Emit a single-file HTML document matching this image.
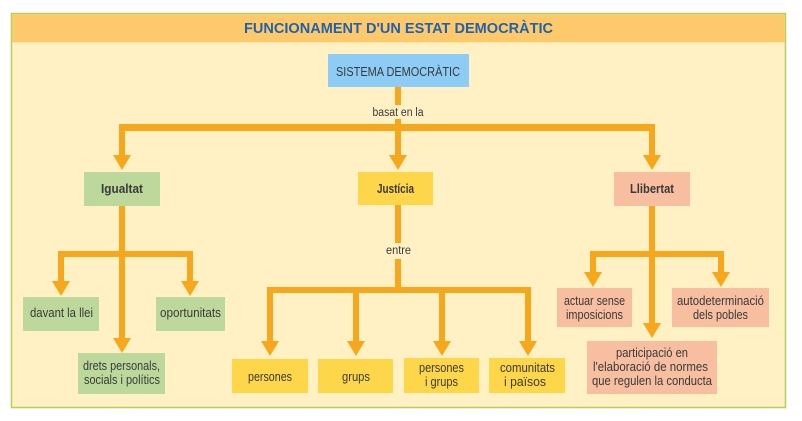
<!DOCTYPE html>
<html><head><meta charset="utf-8"><style>
html,body{margin:0;padding:0;background:#fff;}
svg{display:block;}
text{font-family:"Liberation Sans",sans-serif;fill:#3a3a3a;}
</style></head><body>
<svg width="802" height="421" viewBox="0 0 802 421" xmlns="http://www.w3.org/2000/svg">
<rect x="0" y="0" width="802" height="421" fill="#ffffff"/>
<!-- frame -->
<rect x="11.5" y="13.5" width="774" height="394" fill="#fff1c4" stroke="#b6d25a" stroke-width="1.6"/>
<rect x="12.3" y="14.3" width="772.4" height="28" fill="#fec96a"/>
<text x="398.5" y="33" text-anchor="middle" font-size="14.5" font-weight="bold" style="fill:#1f62ae" textLength="309" lengthAdjust="spacingAndGlyphs">FUNCIONAMENT D'UN ESTAT DEMOCRÀTIC</text>

<!-- top box -->
<rect x="328" y="54" width="141" height="33" fill="#8dccf5"/>
<text x="398" y="76" text-anchor="middle" font-size="13" textLength="124" lengthAdjust="spacingAndGlyphs">SISTEMA DEMOCRÀTIC</text>

<g fill="#f7a71c">
<!-- trunk from top -->
<rect x="395" y="87" width="6" height="18"/>
<rect x="395" y="119" width="6" height="12"/>
<!-- main bar -->
<rect x="119" y="124" width="536" height="7"/>
<!-- drops to level 1 -->
<rect x="119" y="124" width="6" height="32"/>
<polygon points="113,155 131,155 122,170"/>
<rect x="395" y="124" width="6" height="32"/>
<polygon points="389,155 407,155 398,170"/>
<rect x="649" y="124" width="6" height="32"/>
<polygon points="643,155 661,155 652,170"/>

<!-- Igualtat subtree -->
<rect x="119" y="206" width="6" height="133"/>
<polygon points="113,338 131,338 122,353"/>
<rect x="58" y="251" width="135" height="6"/>
<rect x="58" y="251" width="6" height="31"/>
<polygon points="52,281 70,281 61,296"/>
<rect x="187" y="251" width="6" height="31"/>
<polygon points="181,281 199,281 190,296"/>

<!-- Justicia subtree -->
<rect x="395" y="205" width="6" height="38"/>
<rect x="395" y="259" width="6" height="34"/>
<rect x="267" y="287" width="264" height="6"/>
<rect x="267" y="287" width="6" height="55"/>
<polygon points="261,341 279,341 270,356"/>
<rect x="353" y="287" width="6" height="55"/>
<polygon points="347,341 365,341 356,356"/>
<rect x="439" y="287" width="6" height="55"/>
<polygon points="433,341 451,341 442,356"/>
<rect x="525" y="287" width="6" height="55"/>
<polygon points="519,341 537,341 528,356"/>

<!-- Llibertat subtree -->
<rect x="649" y="206" width="6" height="118"/>
<polygon points="643,323 661,323 652,338"/>
<rect x="590" y="251" width="134" height="6"/>
<rect x="590" y="251" width="6" height="22"/>
<polygon points="584,272 602,272 593,287"/>
<rect x="718" y="251" width="6" height="22"/>
<polygon points="712,272 730,272 721,287"/>
</g>

<text x="398" y="116" text-anchor="middle" font-size="11.5" textLength="51" lengthAdjust="spacingAndGlyphs">basat en la</text>
<text x="398.5" y="254" text-anchor="middle" font-size="11.5" textLength="25" lengthAdjust="spacingAndGlyphs">entre</text>

<!-- level 1 boxes -->
<rect x="84" y="172" width="76" height="34" fill="#bcd99b"/>
<text x="122" y="193" text-anchor="middle" font-size="13" font-weight="bold" textLength="42" lengthAdjust="spacingAndGlyphs">Igualtat</text>
<rect x="358" y="172" width="75" height="33" fill="#fdd64a"/>
<text x="395.5" y="193" text-anchor="middle" font-size="13" font-weight="bold" textLength="37" lengthAdjust="spacingAndGlyphs">Justícia</text>
<rect x="614" y="172" width="76" height="34" fill="#f7bea0"/>
<text x="652" y="193" text-anchor="middle" font-size="13" font-weight="bold" textLength="44" lengthAdjust="spacingAndGlyphs">Llibertat</text>

<!-- Igualtat children -->
<rect x="23" y="297" width="76" height="34" fill="#bcd99b"/>
<text x="61.5" y="317" text-anchor="middle" font-size="12.5" textLength="63" lengthAdjust="spacingAndGlyphs">davant la llei</text>
<rect x="156" y="297" width="69" height="34" fill="#bcd99b"/>
<text x="190.5" y="317" text-anchor="middle" font-size="12.5" textLength="61" lengthAdjust="spacingAndGlyphs">oportunitats</text>
<rect x="78" y="353" width="87" height="41" fill="#bcd99b"/>
<text x="121.5" y="370" text-anchor="middle" font-size="12.5" textLength="77" lengthAdjust="spacingAndGlyphs">drets personals,</text>
<text x="122" y="384" text-anchor="middle" font-size="12.5" textLength="76" lengthAdjust="spacingAndGlyphs">socials i polítics</text>

<!-- Justicia children -->
<rect x="232" y="359" width="76" height="34" fill="#fdd64a"/>
<text x="270" y="381" text-anchor="middle" font-size="12.5" textLength="44" lengthAdjust="spacingAndGlyphs">persones</text>
<rect x="318" y="359" width="75" height="34" fill="#fdd64a"/>
<text x="356" y="381" text-anchor="middle" font-size="12.5" textLength="28" lengthAdjust="spacingAndGlyphs">grups</text>
<rect x="404" y="358" width="75" height="35" fill="#fdd64a"/>
<text x="441.5" y="372" text-anchor="middle" font-size="12.5" textLength="45" lengthAdjust="spacingAndGlyphs">persones</text>
<text x="441.5" y="386" text-anchor="middle" font-size="12.5" textLength="33" lengthAdjust="spacingAndGlyphs">i grups</text>
<rect x="489" y="358" width="76" height="35" fill="#fdd64a"/>
<text x="527.5" y="372" text-anchor="middle" font-size="12.5" textLength="55" lengthAdjust="spacingAndGlyphs">comunitats</text>
<text x="525" y="386" text-anchor="middle" font-size="12.5" textLength="42" lengthAdjust="spacingAndGlyphs">i països</text>

<!-- Llibertat children -->
<rect x="557" y="288" width="75" height="39" fill="#f7bea0"/>
<text x="594.5" y="305" text-anchor="middle" font-size="12.5" textLength="61" lengthAdjust="spacingAndGlyphs">actuar sense</text>
<text x="594.5" y="319" text-anchor="middle" font-size="12.5" textLength="57" lengthAdjust="spacingAndGlyphs">imposicions</text>
<rect x="672" y="288" width="97" height="39" fill="#f7bea0"/>
<text x="720.5" y="305" text-anchor="middle" font-size="12.5" textLength="87" lengthAdjust="spacingAndGlyphs">autodeterminació</text>
<text x="720.5" y="319" text-anchor="middle" font-size="12.5" textLength="55" lengthAdjust="spacingAndGlyphs">dels pobles</text>
<rect x="587" y="341" width="130" height="53" fill="#f7bea0"/>
<text x="652" y="357" text-anchor="middle" font-size="12.5" textLength="72" lengthAdjust="spacingAndGlyphs">participació en</text>
<text x="650.5" y="371" text-anchor="middle" font-size="12.5" textLength="115" lengthAdjust="spacingAndGlyphs">l'elaboració de normes</text>
<text x="652" y="385" text-anchor="middle" font-size="12.5" textLength="120" lengthAdjust="spacingAndGlyphs">que regulen la conducta</text>
</svg>
</body></html>
